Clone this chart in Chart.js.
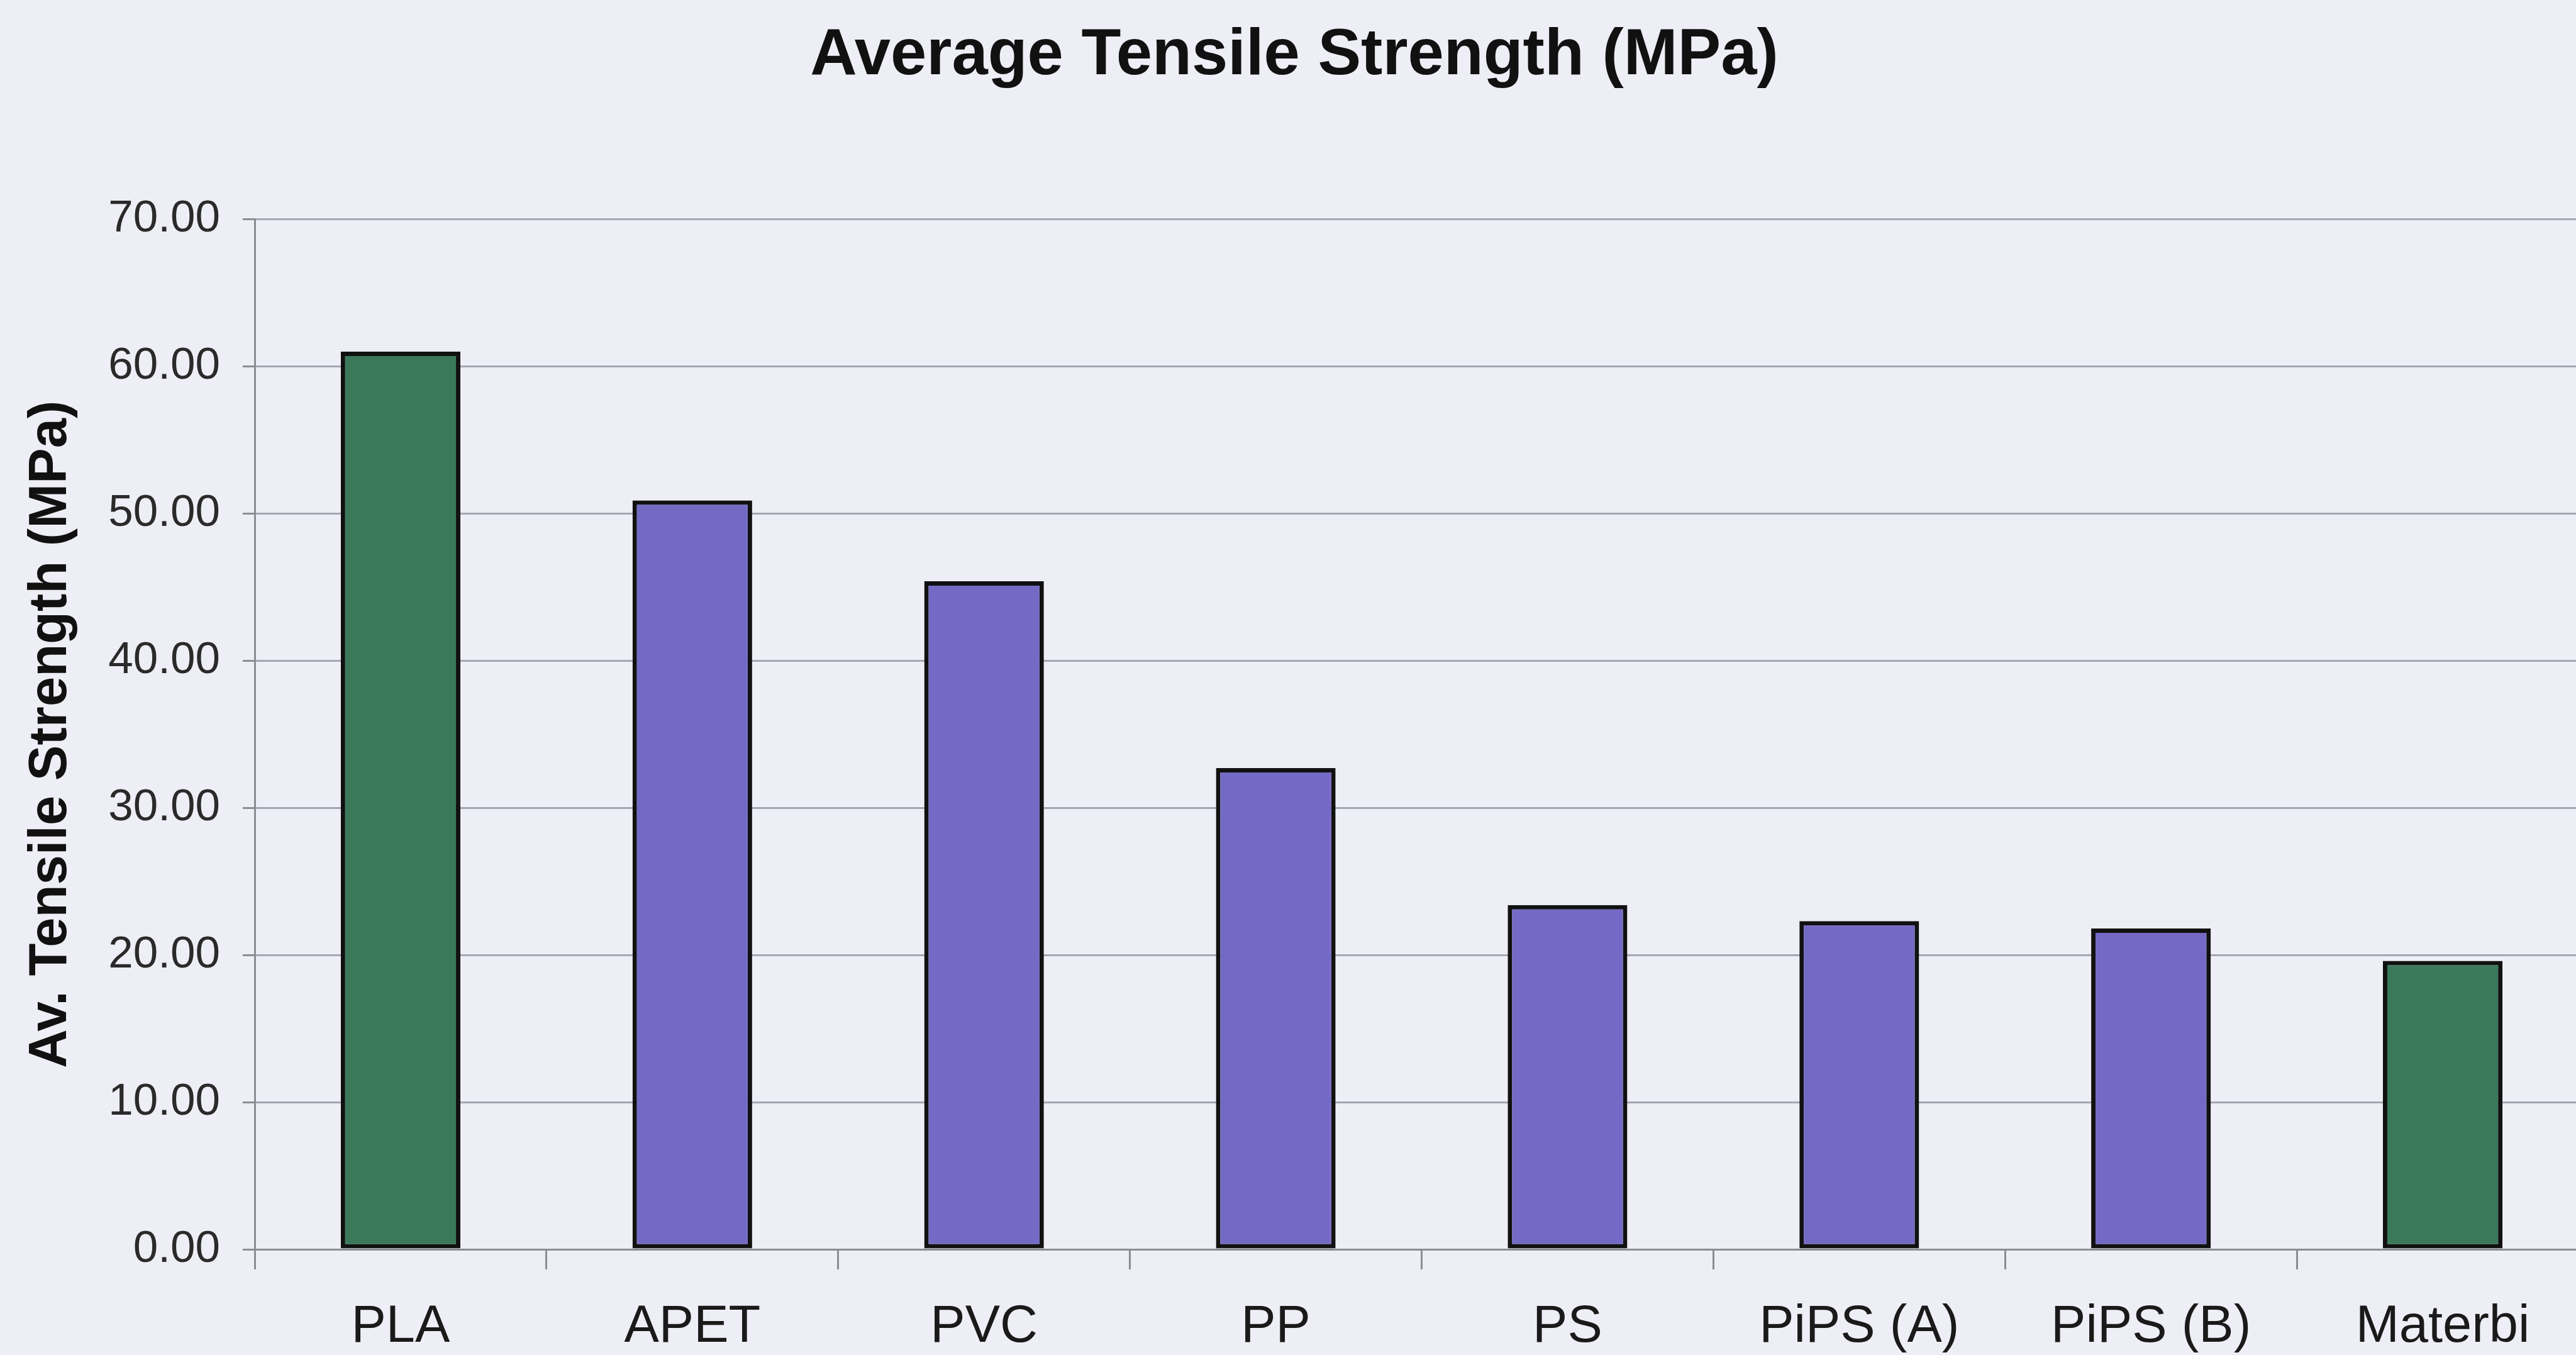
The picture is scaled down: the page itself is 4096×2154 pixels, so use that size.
<!DOCTYPE html>
<html>
<head>
<meta charset="utf-8">
<title>Average Tensile Strength (MPa)</title>
<script src="https://cdn.jsdelivr.net/npm/chart.js@4/dist/chart.umd.min.js"></script>
<style>
  html, body { margin: 0; padding: 0; background: #eeeef6; overflow: hidden; }
  #wrap { width: 4120px; height: 2154px; }
</style>
</head>
<body>
<div id="wrap"><canvas id="c" width="4120" height="2154"></canvas></div>
<script>
// Materials tested and their mean tensile strength
const categories = ['PLA', 'APET', 'PVC', 'PP', 'PS', 'PiPS (A)', 'PiPS (B)', 'Materbi'];
const tensileStrength = [61.0, 50.9, 45.4, 32.7, 23.4, 22.3, 21.8, 19.6];
const yTicks = [0, 10, 20, 30, 40, 50, 60, 70];
// Biodegradable materials are drawn in green
const biodegradable = ['PLA', 'Materbi'];

const GREEN = '#3a7a5a';
const PURPLE = '#746ac6';
const GRID = '#a6a6b2';
const AXIS = '#8c8c94';

Chart.defaults.font.family = '"Liberation Sans", Arial, sans-serif';
Chart.defaults.color = '#1a1a1a';

new Chart(document.getElementById('c'), {
  type: 'bar',
  data: {
    labels: categories,
    datasets: [{
      data: tensileStrength,
      backgroundColor: categories.map(c => biodegradable.includes(c) ? GREEN : PURPLE),
      borderColor: '#111111',
      borderWidth: 7,
      borderSkipped: false,
      categoryPercentage: 1.0,
      barPercentage: 0.41
    }]
  },
  options: {
    responsive: false,
    devicePixelRatio: 1,
    animation: false,
    layout: { padding: { left: 0, right: 4, top: 0, bottom: 0 } },
    plugins: {
      legend: { display: false },
      tooltip: { enabled: false },
      title: {
        display: true,
        text: 'Average Tensile Strength (MPa)',
        color: '#111111',
        font: { size: 103, weight: 'bold', lineHeight: 1.2 },
        padding: { top: 28, bottom: 197 }
      }
    },
    scales: {
      x: {
        offset: true,
        grid: {
          offset: true,
          drawOnChartArea: false,
          drawTicks: true,
          tickLength: 32,
          color: AXIS,
          lineWidth: 3
        },
        border: { display: true, color: AXIS, width: 3 },
        ticks: {
          color: '#1a1a1a',
          font: { size: 83, lineHeight: 1.2 },
          padding: 42,
          maxRotation: 0,
          autoSkip: false
        },
        afterFit: s => { s.height = 168; }
      },
      y: {
        min: 0,
        max: 70,
        afterBuildTicks: s => { s.ticks = yTicks.map(v => ({ value: v })); },
        grid: {
          color: GRID,
          lineWidth: 3,
          drawTicks: true,
          tickLength: 19,
          tickColor: AXIS
        },
        border: { display: true, color: AXIS, width: 3 },
        ticks: {
          color: '#2a2a2a',
          font: { size: 71, lineHeight: 1.2 },
          padding: 36,
          callback: v => Number(v).toFixed(2)
        },
        title: {
          display: true,
          text: 'Av. Tensile Strength (MPa)',
          color: '#111111',
          font: { size: 85, weight: 'bold', lineHeight: 1.2 },
          padding: { top: 31, bottom: 0 }
        },
        afterFit: s => { s.width = 405; }
      }
    }
  }
});
</script>
</body>
</html>
